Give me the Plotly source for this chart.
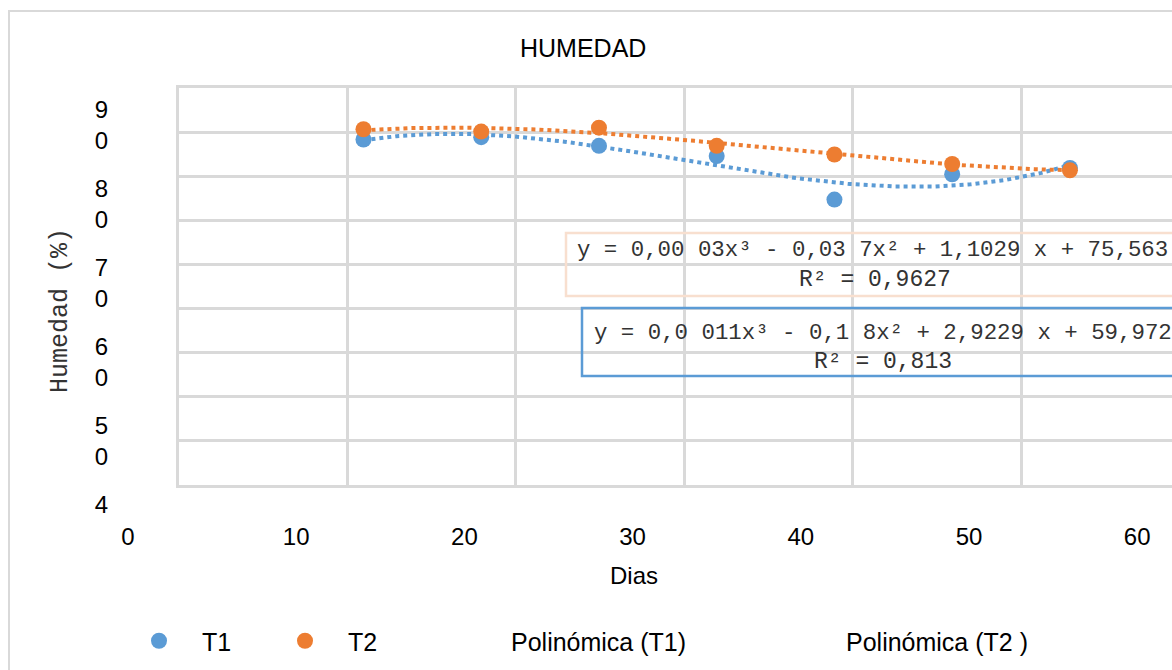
import numpy as np
import plotly.graph_objects as go

# ---------------- data ----------------
days = [14, 21, 28, 35, 42, 49, 56]
t1 = [88.2, 88.5, 87.4, 86.1, 80.6, 83.8, 84.6]
t2 = [89.5, 89.2, 89.7, 87.4, 86.3, 85.1, 84.3]
x_ticks = [0, 10, 20, 30, 40, 50, 60]
y_ticks = [40, 50, 60, 70, 80, 90]
y_ticktext = ["4<br>\u00a0", "5<br>0", "6<br>0", "7<br>0", "8<br>0", "9<br>0"]
eq_t2 = "y = 0,00 03x³ - 0,03 7x² + 1,1029 x + 75,563"
r2_t2 = "R² = 0,9627"
eq_t1 = "y = 0,0 011x³ - 0,1 8x² + 2,9229 x + 59,972"
r2_t1 = "R² = 0,813"
series_names = ["T1", "T2", "Polinómica (T1)", "Polinómica (T2 )"]

# ---------------- geometry / style ----------------
W, H = 1172, 670


def px(x):
    return x / W


def py(y):
    return 1 - y / H


BLUE = "#5B9BD5"
ORANGE = "#ED7D31"
GRID = "#D9D9D9"
SANS = "Arial, Liberation Sans, sans-serif"
MONO = "Courier New, Liberation Mono, monospace"

X0_PX = 128.0
PX_PER_DAY = 16.82
Y90_PX = 125.3
PX_PER_UNIT = 7.9
TOP_PX = 88.0
y_bottom_px = Y90_PX + 50 * PX_PER_UNIT
x_range = [0, (W - X0_PX) / PX_PER_DAY]
y_range = [40, 90 + (Y90_PX - TOP_PX) / PX_PER_UNIT]

# polynomial (order 3) trend lines fitted to the data
xs = np.linspace(min(days), max(days), 300)
fit1 = np.polyval(np.polyfit(days, t1, 3), xs)
fit2 = np.polyval(np.polyfit(days, t2, 3), xs)

fig = go.Figure()
# empty trace so that the grid frame subplot (x / y) is drawn
fig.add_trace(go.Scatter(x=[None], y=[None], mode="markers", xaxis="x", yaxis="y",
                         showlegend=False, hoverinfo="skip"))
fig.add_trace(go.Scatter(x=xs, y=fit1, mode="lines", xaxis="x2", yaxis="y2",
                         line=dict(color=BLUE, width=4, dash="dot"), showlegend=False,
                         hoverinfo="skip"))
fig.add_trace(go.Scatter(x=xs, y=fit2, mode="lines", xaxis="x2", yaxis="y2",
                         line=dict(color=ORANGE, width=4, dash="dot"), showlegend=False,
                         hoverinfo="skip"))
fig.add_trace(go.Scatter(x=days, y=t1, mode="markers", name=series_names[0], xaxis="x2", yaxis="y2",
                         marker=dict(color=BLUE, size=16), legendrank=1, legendwidth=55))
fig.add_trace(go.Scatter(x=days, y=t2, mode="markers", name=series_names[1], xaxis="x2", yaxis="y2",
                         marker=dict(color=ORANGE, size=16), legendrank=2, legendwidth=72))
fig.add_trace(go.Scatter(x=[None], y=[None], mode="lines", name=series_names[2], xaxis="x2", yaxis="y2",
                         line=dict(color=BLUE, width=0), legendrank=3, legendwidth=244))
fig.add_trace(go.Scatter(x=[None], y=[None], mode="lines", name=series_names[3], xaxis="x2", yaxis="y2",
                         line=dict(color=ORANGE, width=0), legendrank=4))

shapes = [
    # outer chart border
    dict(type="rect", xref="paper", yref="paper", x0=px(9), x1=px(W + 40), y0=py(H + 40), y1=py(11),
         line=dict(color=GRID, width=2), layer="below"),
    # equation boxes
    dict(type="rect", xref="paper", yref="paper", x0=px(566), x1=px(1183), y0=py(296), y1=py(233),
         line=dict(color="#F8DFCF", width=2.5), fillcolor="rgba(0,0,0,0)", layer="above"),
    dict(type="rect", xref="paper", yref="paper", x0=px(582), x1=px(1183), y0=py(376), y1=py(308),
         line=dict(color=BLUE, width=2.5), fillcolor="rgba(0,0,0,0)", layer="above"),
]

annotations = [
    dict(text="HUMEDAD", x=px(583), y=py(48), xref="paper", yref="paper", showarrow=False,
         xanchor="center", yanchor="middle", font=dict(family=SANS, size=25, color="#000")),
    dict(text="Dias", x=px(634), y=py(575), xref="paper", yref="paper", showarrow=False,
         xanchor="center", yanchor="middle", font=dict(family=SANS, size=24, color="#000")),
    dict(text="Humedad (%)", x=px(60), y=py(311), xref="paper", yref="paper", showarrow=False,
         textangle=-90, xanchor="center", yanchor="middle", font=dict(family=MONO, size=25, color="#333")),
    dict(text=eq_t2, x=px(576), y=py(250), xref="paper", yref="paper", showarrow=False,
         xanchor="left", yanchor="middle", borderpad=0, font=dict(family=MONO, size=22.4, color="#333")),
    dict(text=r2_t2, x=px(874.5), y=py(280), xref="paper", yref="paper", showarrow=False,
         xanchor="center", yanchor="middle", borderpad=0, font=dict(family=MONO, size=23, color="#333")),
    dict(text=eq_t1, x=px(593), y=py(333), xref="paper", yref="paper", showarrow=False,
         xanchor="left", yanchor="middle", borderpad=0, font=dict(family=MONO, size=22.4, color="#333")),
    dict(text=r2_t1, x=px(882.5), y=py(362), xref="paper", yref="paper", showarrow=False,
         xanchor="center", yanchor="middle", borderpad=0, font=dict(family=MONO, size=23, color="#333")),
]

fig.update_layout(
    width=W, height=H,
    margin=dict(l=0, r=0, t=0, b=0, pad=0),
    paper_bgcolor="white", plot_bgcolor="rgba(0,0,0,0)",
    font=dict(family=SANS, size=24, color="#000"),
    showlegend=True,
    legend=dict(orientation="h", x=px(116), y=py(641), xanchor="left", yanchor="middle",
                font=dict(family=SANS, size=25, color="#000"), bgcolor="rgba(0,0,0,0)",
                borderwidth=0, itemwidth=76),
    # grid frame (gridlines are offset from the labels in the original rendering)
    xaxis=dict(domain=[px(179), 1], anchor="y", range=[0, (W - 179) / 168.4], tick0=0, dtick=1,
               showticklabels=False, ticks="", showgrid=True, gridcolor=GRID, gridwidth=3,
               zeroline=False, showline=True, linecolor=GRID, linewidth=3, mirror=True,
               automargin=False),
    yaxis=dict(domain=[py(485), py(88)], anchor="x", range=[0, 9], tick0=0, dtick=1,
               showticklabels=False, ticks="", showgrid=True, gridcolor=GRID, gridwidth=3,
               zeroline=False, showline=True, linecolor=GRID, linewidth=3, mirror=False,
               automargin=False),
    # data axes with their labels
    xaxis2=dict(domain=[px(X0_PX), 1], anchor="y2", range=x_range, tickvals=x_ticks,
                showgrid=False, zeroline=False, showline=False, ticks="",
                tickfont=dict(family=SANS, size=24, color="#000"), automargin=False),
    yaxis2=dict(domain=[py(y_bottom_px), py(TOP_PX)], anchor="x2", range=y_range,
                tickvals=y_ticks, ticktext=y_ticktext,
                showgrid=False, zeroline=False, showline=False, ticks="",
                tickfont=dict(family=SANS, size=24, color="#000"), automargin=False,
                ticklabelstandoff=19),
    shapes=shapes,
    annotations=annotations,
)

fig.write_html("out.html")
